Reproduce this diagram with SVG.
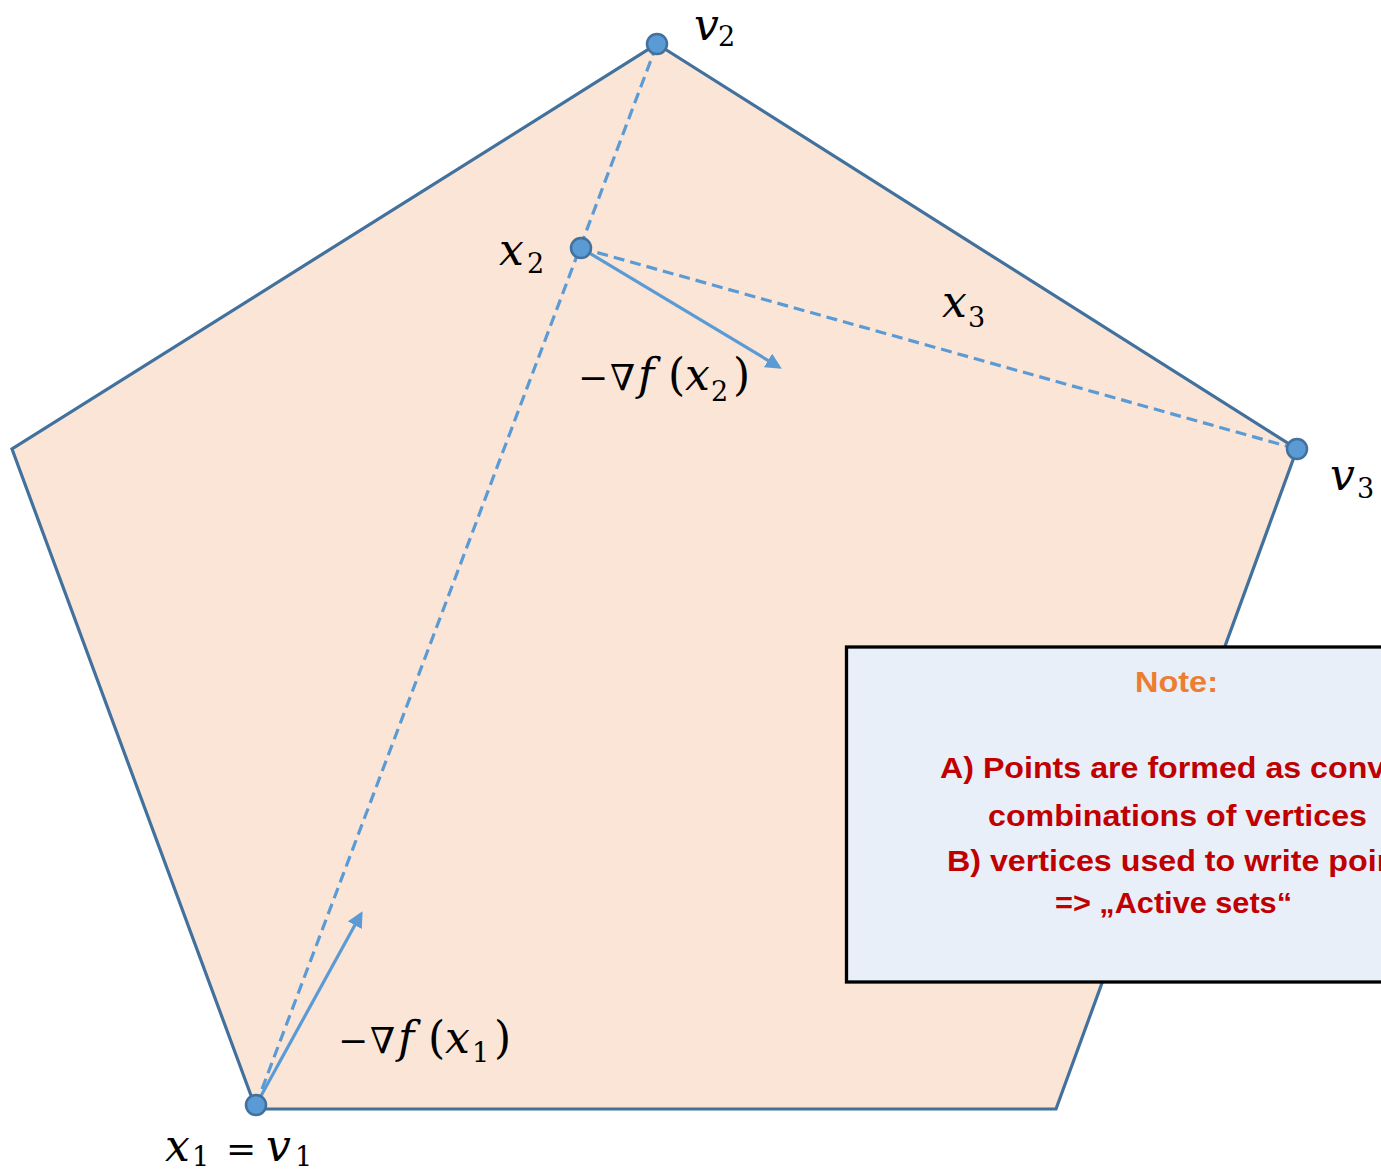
<svg xmlns="http://www.w3.org/2000/svg" width="1381" height="1173" viewBox="0 0 1381 1173">
<defs>
<style>
.m{font-family:"DejaVu Serif","Liberation Serif",serif;font-style:italic;font-size:44px;fill:#000}
.u{font-family:"DejaVu Serif","Liberation Serif",serif;font-size:44px;fill:#000}
.s{font-family:"DejaVu Serif","Liberation Serif",serif;font-size:27px;font-style:normal;fill:#000}
.op{font-family:"DejaVu Serif","Liberation Serif",serif;font-size:36px;font-style:normal}
.it{font-style:italic}
.pt{fill:#5B9BD5;stroke:#41719C;stroke-width:2.5}
.dash{stroke:#5B9BD5;stroke-width:3.2;stroke-dasharray:11 6;fill:none}
.arr{stroke:#5B9BD5;stroke-width:3.2;fill:none}
.nt{font-family:"Liberation Sans","Arial",sans-serif;font-weight:bold;font-size:29px;fill:#C00000}
</style>
<marker id="ah" viewBox="0 0 10 10" refX="8" refY="5" markerWidth="5" markerHeight="5" orient="auto" markerUnits="strokeWidth">
<path d="M0,0 L10,5 L0,10 z" fill="#5B9BD5"/>
</marker>
</defs>
<rect width="1381" height="1173" fill="#fff"/>
<g id="polytope">
<polygon points="657,44 1297,449 1056,1109 256,1109 12,449" fill="#FBE5D6" stroke="#41719C" stroke-width="3.2"/>
</g>
<g id="connectors">
<line class="dash" x1="256" y1="1105" x2="657" y2="44"/>
<line class="dash" x1="581" y1="248" x2="1297" y2="449"/>
<line class="arr" x1="581" y1="248" x2="779" y2="367" marker-end="url(#ah)"/>
<line class="arr" x1="256" y1="1105" x2="361" y2="914" marker-end="url(#ah)"/>
</g>
<g id="v2"><circle class="pt" cx="657" cy="44" r="10"/>
<text class="m" x="694" y="40" font-size="38">v<tspan class="s" x="718" y="46">2</tspan></text></g>
<g id="x2"><circle class="pt" cx="581" cy="248" r="10"/>
<text class="m" x="499" y="265">x<tspan class="s" x="527" y="273">2</tspan></text></g>
<g id="v3"><circle class="pt" cx="1297" cy="449" r="10"/>
<text class="m" x="1330" y="490">v<tspan class="s" x="1357" y="498">3</tspan></text></g>
<g id="x3"><text class="m" x="942" y="317">x<tspan class="s" x="968" y="327">3</tspan></text></g>
<g id="x1"><circle class="pt" cx="256" cy="1105" r="10"/>
<text class="m" x="165" y="1161">x<tspan class="s" x="192" y="1166">1</tspan><tspan class="op" x="226" y="1161">=</tspan><tspan x="266" y="1161">v</tspan><tspan class="s" x="295" y="1166">1</tspan></text></g>
<g id="grad2">
<text class="u" x="578" y="390"><tspan class="op">−</tspan><tspan class="op" x="610">∇</tspan><tspan class="it" x="638">f</tspan><tspan x="668">(</tspan><tspan class="it" x="685">x</tspan><tspan class="s" x="711" y="401">2</tspan><tspan x="733" y="390">)</tspan></text></g>
<g id="grad1">
<text class="u" x="338" y="1053"><tspan class="op">−</tspan><tspan class="op" x="370">∇</tspan><tspan class="it" x="398">f</tspan><tspan x="428">(</tspan><tspan class="it" x="445">x</tspan><tspan class="s" x="472" y="1062">1</tspan><tspan x="494" y="1053">)</tspan></text></g>
<g id="note">
<rect x="846.5" y="647" width="600" height="335" fill="#E9EFF8" stroke="#000" stroke-width="3.3"/>
<text class="nt" x="1135" y="692" textLength="83" lengthAdjust="spacingAndGlyphs" style="fill:#ED7D31">Note:</text>
<text class="nt" x="940" y="778" textLength="481" lengthAdjust="spacingAndGlyphs">A) Points are formed as convex</text>
<text class="nt" x="988" y="826" textLength="379" lengthAdjust="spacingAndGlyphs">combinations of vertices</text>
<text class="nt" x="947" y="871" textLength="478" lengthAdjust="spacingAndGlyphs">B) vertices used to write points</text>
<text class="nt" x="1055" y="913" textLength="237" lengthAdjust="spacingAndGlyphs">=&gt; „Active sets“</text>
</g>
</svg>
